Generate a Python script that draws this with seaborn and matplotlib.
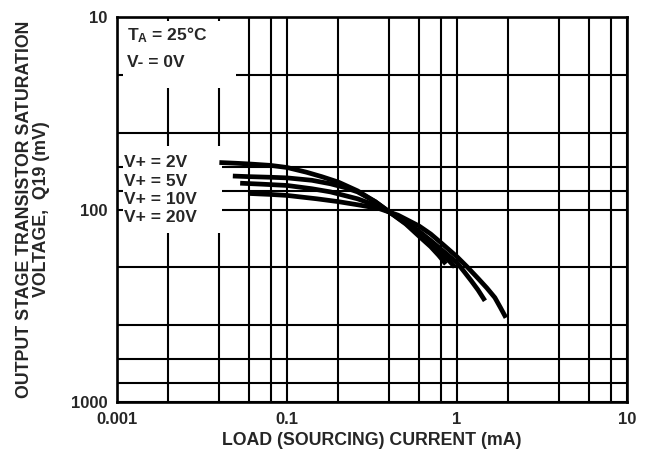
import numpy as np
import pandas as pd
import matplotlib
matplotlib.use('Agg')
import matplotlib.pyplot as plt
from matplotlib.ticker import FixedLocator, NullFormatter
from matplotlib.patches import Rectangle
import seaborn as sns

# values (current in mA, saturation voltage in mV)
current_2v = [0.04, 0.05, 0.06, 0.08, 0.1, 0.13, 0.16, 0.2, 0.26, 0.33, 0.4,
              0.5, 0.6, 0.7, 0.78, 0.86]
vsat_2v = [57, 57.5, 58, 59, 60.5, 64, 67.5, 72, 80, 91, 103,
           119, 138, 156, 173, 192]

current_5v = [0.048, 0.06, 0.08, 0.1, 0.14, 0.18, 0.22, 0.26, 0.33, 0.4,
              0.5, 0.6, 0.7, 0.8, 0.9, 0.97]
vsat_5v = [67, 67.5, 68, 68.5, 70.5, 73.5, 77, 81, 91, 103,
           118, 135, 151, 169, 185, 199]

current_10v = [0.053, 0.07, 0.1, 0.14, 0.18, 0.26, 0.33, 0.4, 0.5, 0.6,
               0.7, 0.82, 1.0, 1.1, 1.21, 1.33, 1.46]
vsat_10v = [73, 73.8, 75, 78, 81, 88, 95, 103, 116, 130,
            145, 163, 189, 210, 234, 262, 298]

current_20v = [0.059, 0.08, 0.1, 0.15, 0.2, 0.27, 0.35, 0.45, 0.6, 0.7,
               0.82, 1.0, 1.15, 1.33, 1.5, 1.67, 1.8, 1.94]
vsat_20v = [82.5, 83.5, 84.5, 88, 91, 95, 99, 107, 122, 134,
            151, 176, 199, 228, 256, 287, 323, 365]

supply_labels = ['V+ = 2V', 'V+ = 5V', 'V+ = 10V', 'V+ = 20V']

x_major = [0.01, 0.1, 1, 10]
x_tick_labels = ['0.001', '0.1', '1', '10']
x_minor = [0.02, 0.04, 0.06, 0.08, 0.2, 0.4, 0.6, 0.8, 2, 4, 6, 8]
y_major = [10, 100, 1000]
y_tick_labels = ['10', '100', '1000']
y_minor = [20, 40, 60, 80, 200, 400, 600, 800]

frames = []
for lab, xs, ys in zip(supply_labels,
                       [current_2v, current_5v, current_10v, current_20v],
                       [vsat_2v, vsat_5v, vsat_10v, vsat_20v]):
    frames.append(pd.DataFrame({'current': xs, 'vsat': ys, 'supply': lab}))
df = pd.concat(frames, ignore_index=True)

sns.set_style('white')
plt.rcParams['font.family'] = ['Liberation Sans', 'DejaVu Sans']
plt.rcParams['font.weight'] = 'bold'
plt.rcParams['mathtext.default'] = 'regular'

fig = plt.figure(figsize=(6.48, 4.55), dpi=100)
ax = fig.add_axes([0.1806, 0.1165, 0.787, 0.8461])

sns.lineplot(data=df, x='current', y='vsat', hue='supply', units='supply',
             estimator=None, sort=False, palette=['black'] * 4, legend=False,
             linewidth=3.4, ax=ax, zorder=3)
for line in ax.get_lines():
    line.set_solid_capstyle('butt')
    line.set_solid_joinstyle('round')

ax.set_xscale('log')
ax.set_yscale('log')
ax.set_xlim(0.01, 10)
ax.set_ylim(1000, 10)

ax.xaxis.set_major_locator(FixedLocator(x_major))
ax.xaxis.set_minor_locator(FixedLocator(x_minor))
ax.yaxis.set_major_locator(FixedLocator(y_major))
ax.yaxis.set_minor_locator(FixedLocator(y_minor))
ax.set_xticklabels(x_tick_labels)
ax.set_yticklabels(y_tick_labels)
ax.xaxis.set_minor_formatter(NullFormatter())
ax.yaxis.set_minor_formatter(NullFormatter())

ax.set_axisbelow(True)
ax.grid(True, which='both', color='black', linewidth=1.5)
ax.tick_params(which='both', direction='in', length=0, labelsize=12, pad=7)
for s in ax.spines.values():
    s.set_color('black')
    s.set_linewidth(1.9)
    s.set_zorder(4)

# white boxes behind the annotations (leave small grid stubs at the edges)
ax.add_patch(Rectangle((0.012, 0.816), 0.222, 0.174, transform=ax.transAxes,
                       facecolor='white', edgecolor='none', zorder=1))
ax.add_patch(Rectangle((0.012, 0.439), 0.194, 0.226, transform=ax.transAxes,
                       facecolor='white', edgecolor='none', zorder=1))

ax.text(0.02, 0.952, r'T$_\mathregular{A}$ = 25°C', transform=ax.transAxes,
        fontsize=12.5, fontweight='bold', va='center', ha='left', zorder=5)
ax.text(0.02, 0.883, 'V- = 0V', transform=ax.transAxes,
        fontsize=12.5, fontweight='bold', va='center', ha='left', zorder=5)
for i, lab in enumerate(supply_labels):
    ax.text(0.014, 0.622 - i * 0.048, lab, transform=ax.transAxes,
            fontsize=12.5, fontweight='bold', va='center', ha='left', zorder=5)

ax.set_xlabel('LOAD (SOURCING) CURRENT (mA)', fontsize=12.8, fontweight='bold',
              labelpad=4)
ax.set_ylabel('OUTPUT STAGE TRANSISTOR SATURATION\nVOLTAGE,  Q19 (mV)',
              fontsize=12.8, fontweight='bold', linespacing=1.05, va='center')
ax.yaxis.set_label_coords(-0.165, 0.5)

fig.savefig('out.png', dpi=100)
